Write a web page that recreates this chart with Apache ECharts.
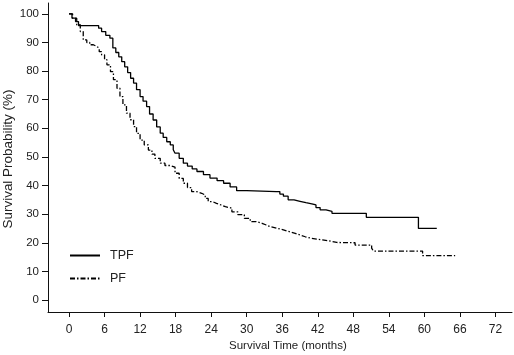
<!DOCTYPE html>
<html>
<head>
<meta charset="utf-8">
<script src="https://cdn.jsdelivr.net/npm/echarts@6/dist/echarts.min.js"></script>
<style>
html,body{margin:0;padding:0;background:#fff;}
#c{width:514px;height:355px;}
</style>
</head>
<body>
<div id="c"></div>
<script>
// Tick labels
const xTicks = [0, 6, 12, 18, 24, 30, 36, 42, 48, 54, 60, 66, 72];
const yTicks = [0, 10, 20, 30, 40, 50, 60, 70, 80, 90, 100];

// TPF survival curve (months, %)
const tpfTime = [0, 0.5, 1.1, 1.6, 5.0, 5.5, 6.2, 6.9, 7.4, 7.9, 8.4, 8.9, 9.4, 9.9, 10.4, 10.9, 11.4, 12.0, 12.5, 13.1, 13.6, 14.2, 14.8, 15.4, 15.9, 16.5, 17.1, 17.6, 17.9, 18.6, 19.3, 20.0, 20.8, 21.6, 22.7, 23.8, 25.0, 26.1, 27.2, 28.3, 30.0, 35.0, 35.6, 36.2, 37.0, 38.0, 39.0, 40.0, 41.0, 41.7, 42.4, 43.4, 44.4, 50.2, 59.0, 62.1];
const tpfSurv = [100, 98.5, 97.3, 95.9, 95.0, 93.8, 92.5, 91.5, 88.1, 86.5, 85.0, 83.3, 81.5, 79.5, 77.5, 75.8, 73.5, 71.1, 69.5, 67.6, 65.0, 62.9, 60.5, 58.3, 56.8, 55.3, 54.2, 52.5, 51.3, 49.5, 47.8, 46.8, 45.8, 44.9, 43.8, 42.6, 41.7, 40.8, 39.5, 38.2, 37.9, 37.9, 37.0, 36.3, 35.0, 34.5, 34.0, 33.6, 33.2, 32.3, 31.5, 31.0, 30.3, 28.9, 25.0, 25.0];

// PF survival curve (months, %)
const pfTime = [0, 0.6, 1.3, 1.9, 2.4, 3.0, 3.5, 4.1, 4.7, 5.1, 5.5, 6.0, 6.4, 7.0, 7.5, 8.1, 8.6, 9.1, 9.7, 10.3, 10.9, 11.4, 12.0, 12.7, 13.4, 14.0, 14.5, 15.4, 16.2, 17.1, 17.9, 18.6, 19.3, 20.0, 20.7, 21.5, 22.4, 23.0, 23.5, 24.2, 24.9, 25.7, 26.4, 27.5, 28.5, 29.6, 30.6, 31.6, 32.6, 33.3, 34.0, 35.1, 36.2, 37.2, 38.2, 39.0, 39.9, 40.8, 41.8, 42.8, 43.8, 44.5, 45.2, 48.3, 51.1, 51.4, 59.7, 65.2];
const pfSurv = [100, 98.5, 96.2, 93.8, 90.9, 90.0, 89.2, 88.6, 88.0, 86.8, 85.7, 84.0, 82.2, 79.8, 77.0, 74.0, 71.1, 68.2, 65.3, 63.0, 60.6, 58.2, 55.9, 54.2, 52.4, 51.0, 49.5, 47.8, 47.0, 46.4, 44.3, 42.5, 40.8, 39.3, 37.9, 37.3, 36.7, 35.5, 34.4, 33.8, 33.2, 32.6, 32.1, 30.8, 29.8, 28.5, 27.4, 26.8, 26.2, 25.6, 25.1, 24.5, 23.9, 23.3, 22.7, 22.1, 21.6, 21.3, 21.0, 20.7, 20.4, 20.1, 20.0, 19.2, 18.1, 17.1, 15.5, 15.5];

const zip = (a, b) => a.map((v, i) => [v, b[i]]);
const font = 'Liberation Sans, Arial, sans-serif';

const chart = echarts.init(document.getElementById('c'), null, {renderer: 'canvas'});
chart.setOption({
  animation: false,
  backgroundColor: '#fff',
  grid: {left: 48, right: 2, top: 3, bottom: 43, containLabel: false},
  xAxis: {
    type: 'value', min: -3.55, max: 74.8,
    axisLine: {show: true, onZero: false, lineStyle: {color: '#111', width: 1}},
    axisTick: {show: true, length: 5, customValues: xTicks, lineStyle: {color: '#111'}},
    axisLabel: {customValues: xTicks, color: '#222', fontSize: 12, fontFamily: font, margin: 12},
    splitLine: {show: false}
  },
  yAxis: {
    type: 'value', min: -4.2, max: 103.8,
    axisLine: {show: true, onZero: false, lineStyle: {color: '#111', width: 1}},
    axisTick: {show: true, length: 6, customValues: yTicks, lineStyle: {color: '#111'}},
    axisLabel: {customValues: yTicks, color: '#222', fontSize: 11.5, fontFamily: font, margin: 9},
    splitLine: {show: false}
  },
  legend: {
    orient: 'vertical', left: 69, top: 249, itemWidth: 30, itemHeight: 14, itemGap: 10,
    padding: 0,
    itemStyle: {opacity: 0},
    textStyle: {color: '#222', fontSize: 12.5, fontFamily: font, padding: [0, 0, 0, 5]},
    data: ['TPF', 'PF']
  },
  graphic: [
    {type: 'text', left: 229, top: 340, style: {text: 'Survival Time (months)', fill: '#222', font: '11.5px ' + font}},
    {type: 'text', x: 3, y: 159, rotation: Math.PI / 2, scaleX: 1.12, style: {text: 'Survival Probability (%)', fill: '#222', font: '12px ' + font, align: 'center', verticalAlign: 'top'}}
  ],
  series: [
    {name: 'TPF', type: 'line', step: 'end', symbol: 'none', data: zip(tpfTime, tpfSurv),
     lineStyle: {color: '#000', width: 1.3, type: 'solid'}, itemStyle: {color: '#000'}},
    {name: 'PF', type: 'line', step: 'end', symbol: 'none', data: zip(pfTime, pfSurv),
     lineStyle: {color: '#000', width: 1.3, type: [5, 2, 1.5, 2]}, itemStyle: {color: '#000'}}
  ]
});
</script>
</body>
</html>
